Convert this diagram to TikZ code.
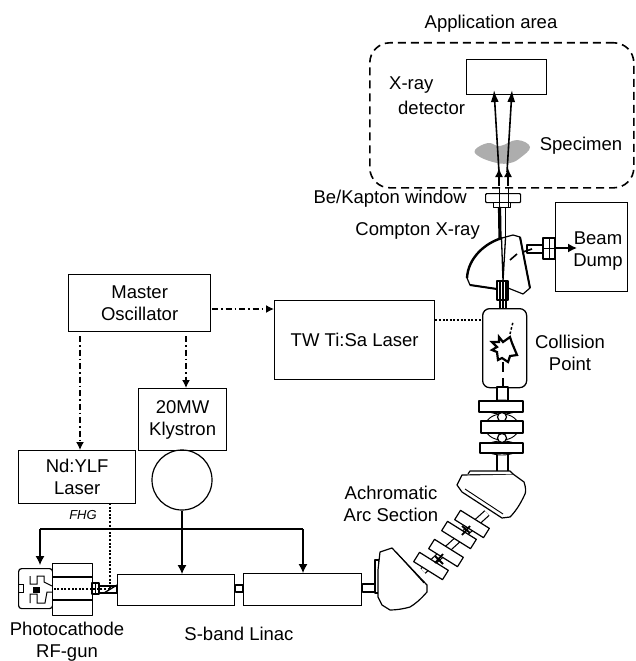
\documentclass[tikz,border=0pt]{standalone}
\usepackage{fontspec}
\setmainfont{Liberation Sans}
\usetikzlibrary{arrows.meta,calc}
\tikzset{
  txt/.style={font=\fontsize{18.5}{22}\selectfont,align=center,inner sep=0pt,text=black},
  boxn/.style={draw=black,line width=1.3pt,inner sep=0pt,txt},
  part/.style={draw=black,line width=1.2pt,fill=white,line join=round},
  thin part/.style={draw=black,line width=.9pt,fill=white},
  dashdot/.style={line width=1.4pt,dash pattern=on 6pt off 3pt on 1.5pt off 3pt,-{Latex[length=8pt,width=8pt]}},
  dots/.style={line width=1.7pt,dash pattern=on 2pt off 1.6pt},
  rf/.style={line width=1.1pt,-{Latex[length=9pt,width=9pt]}},
  xray/.style={line width=1.6pt,-{Latex[length=12pt,width=8pt]}}
}
\begin{document}
\begin{tikzpicture}[x=1pt,y=-1pt]
\useasboundingbox (0,0) rectangle (635,661);
% Application area
\node[draw=black,line width=1.6pt,dash pattern=on 8pt off 5pt,rounded corners=20pt,minimum width=264pt,minimum height=145pt,anchor=north west] (app) at (369,42) {};
\node[boxn,minimum width=80pt,minimum height=35pt,anchor=north west] (det) at (466,59) {};
\fill[black!32] plot[smooth cycle,tension=.7] coordinates {(475,150) (488,143) (500,146) (517,140) (530,147) (520,158) (510,163) (497,163) (480,157)};
\node[txt,anchor=south] (apptxt) at (491,33) {Application area};
\node[txt,anchor=west] (xr) at (389,85) {X-ray};
\node[txt,anchor=west] (dt) at (398,108) {detector};
\node[txt] (spec) at (581,146) {Specimen};
\node[txt,anchor=east] (bk) at (467,199) {Be/Kapton window};
\node[txt,anchor=east] (cx) at (480,231) {Compton X-ray};
% Beam dump
\node[boxn,minimum width=72pt,minimum height=89pt,anchor=north west] (dump) at (555,202) {};
\node[txt] (dumptxt) at (598,251) {Beam\\Dump};
% bend at top
\draw[part] (502,238) .. controls (485,243) and (468,258) .. (467,278) -- (470,285) -- (497,289) -- (508,288) -- (523,294) -- (530,288) -- (520,237) -- (513,235) -- cycle;
\draw[line width=2.4pt] (502,238) .. controls (485,243) and (468,258) .. (467,278);
\draw[line width=2pt] (470,285) -- (497,289);
\draw[line width=2pt] (520,237) -- (530,288);
\draw[part] (527,245) rectangle (543,253);
\draw[line width=1.6pt] (510,260) -- (517,254) (523,252) -- (532,249);
\draw[part] (543,238) rectangle (555,259);
\draw[line width=1pt] (543,248) -- (555,248) (549,238) -- (549,259);
\draw[rf,line width=1.5pt] (dump.west |- 0,248) -- (577,248);
% window
\node[part,rounded corners=1pt,minimum width=35pt,minimum height=9pt,inner sep=0pt,anchor=north west] (win) at (485,193) {};
\node[part,minimum width=17pt,minimum height=5pt,inner sep=0pt,anchor=north west] (win2) at (493,202) {};
% beams
\draw[part] (497,281) rectangle (508,300);
\draw[line width=3.2pt] (499.5,207) -- (500,238);
\draw[line width=1.8pt] (505.5,207) -- (505.5,238);
\draw[line width=1.3pt] (501.5,238) -- (503,281) (505.5,238) -- (503,281);
\draw[line width=1.7pt] (500,281) -- (500,308) (503,281) -- (503,308) (506,281) -- (506,308);
\draw[line width=.9pt] (499,188) -- (499,207) (508,188) -- (508,207);
\coordinate (x1) at (499,186);
\coordinate (x2) at (508,186);
\draw[xray,-{Latex[length=9pt,width=8pt]}] (x1) -- (499,168);
\draw[xray,-{Latex[length=9pt,width=8pt]}] (x2) -- (508,168);
\coordinate (s1) at (499,172);
\coordinate (s2) at (507,172);
\draw[xray] (s1) -- (494,90);
\draw[xray] (s2) -- (512,90);
% Collision box
\node[boxn,rounded corners=7pt,minimum width=44pt,minimum height=79pt,anchor=north west] (col) at (482,308) {};
\draw[line width=2.2pt,line join=miter,fill=white] (499,337) -- (503,342) -- (510,337) -- (512,343) -- (517,355) -- (510,356) -- (508,362) -- (502,358) -- (498,360) -- (497,352) -- (492,350) -- (497,347) -- (492,342) -- (499,342) -- cycle;
\draw[line width=1.5pt,dash pattern=on 2.5pt off 2pt] (510,334) -- (513,322);
\draw[line width=1.3pt] (503,362) -- (503,372) (503,378) -- (503,399);
\node[txt] (coltxt) at (570,353) {Collision\\Point};
% vertical quads
\draw[part] (497,387) rectangle (508,401);
\draw[part] (497,453) rectangle (508,474);
\draw[thin part] (502,427) ellipse (17pt and 13pt);
\draw[thin part] (502,407) ellipse (18pt and 7pt);
\draw[thin part] (502,448) ellipse (17pt and 7pt);
\draw[part] (502,417) circle (4.5pt);
\draw[part] (502,438) circle (4.5pt);
\draw[part] (479,401) rectangle (523,412);
\draw[part] (481,421) rectangle (523,433);
\draw[part] (480,443) rectangle (523,453);
% upper magnet of arc
\draw[part] (457,485) -- (462,475) -- (513,474) -- (524,482) .. controls (526,488) and (526,492) .. (525,494) .. controls (520,505) and (515,512) .. (510,517) -- (502,518) -- (462,492) -- cycle;
\draw[part] (468,474) -- (470,471) -- (510,471) -- (513,474);
\draw[line width=.9pt] (465,489) -- (503,514);
% arc quads
\draw[line width=1.2pt,double=white,double distance=5pt] (423,571) -- (487,513);
\foreach \cx/\cy in {472/524,459/535,446/553,431/566}{
  \draw[part,rotate around={-32:(\cx,\cy)}] (\cx-17,\cy-5.5) rectangle (\cx+17,\cy+5.5);
}
\draw[line width=1.8pt] (462,526) -- (470,533) (470,526) -- (462,535);
\draw[line width=1.8pt] (435,556) -- (443,564) (443,554) -- (435,563);
% lower magnet of arc
\draw[part] (375,560) rectangle (379,593);
\draw[part] (380,552) -- (392,548) -- (427,585) -- (427,592) .. controls (420,600) and (415,604) .. (410,607) .. controls (403,609) and (396,610) .. (390,610) -- (382,605) -- (378,597) -- (378,570) -- cycle;
\draw[line width=.9pt] (396,552) -- (424,583);
% linac
\node[boxn,minimum width=117pt,minimum height=31pt,anchor=north west] (lin1) at (117,574) {};
\node[boxn,minimum width=118pt,minimum height=32pt,anchor=north west] (lin2) at (243,573) {};
\draw[part] (lin1.east |- 0,585) rectangle (lin2.west |- 0,592);
\draw[part] (lin2.east |- 0,584) rectangle (375,592);
% gun
\node[part,rounded corners=3pt,minimum width=34pt,minimum height=40pt,inner sep=0pt,anchor=north west] (gunb) at (18,568) {};
\node[part,minimum width=40pt,minimum height=52pt,inner sep=0pt,anchor=north west] (gun) at (52,563) {};
\draw[line width=1.1pt] (52,577) -- (92,577) (52,600) -- (92,600);
\draw[line width=.9pt] (18,584) -- (23,584) -- (23,592) -- (18,592);
\draw[line width=1pt] (30,576) -- (30,584) -- (37,584) -- (37,576) -- (44,576) -- (44,582) -- (52,586);
\draw[line width=1pt] (30,603) -- (30,594) -- (37,594) -- (37,603) -- (45,603) -- (47,592) -- (52,592);
\fill (33,587) rectangle (40,593);
\draw[part] (92,583) rectangle (99,594);
\draw[line width=.8pt] (95,583) -- (95,594);
\draw[part] (99,586) rectangle (lin1.west |- 0,593);
\draw[line width=1.3pt] (104,593) -- (117,585);
% boxes
\node[boxn,minimum width=142pt,minimum height=57pt,anchor=north west] (mo) at (68,274) {Master\\Oscillator};
\node[boxn,minimum width=160pt,minimum height=79pt,anchor=north west] (tw) at (274,300) {TW Ti:Sa Laser};
\node[boxn,minimum width=88pt,minimum height=62pt,anchor=north west] (kly) at (138,388) {20MW\\Klystron};
\node[boxn,minimum width=117pt,minimum height=53pt,anchor=north west] (nd) at (18,450) {Nd:YLF\\Laser};
\node[draw=black,line width=1.2pt,circle,minimum size=60pt,inner sep=0pt] (circ) at (182,480) {};
% connectors
\coordinate (a) at (212,309);
\draw[dashdot] (a) -- (tw.west |- a);
\coordinate (c) at (80,336);
\draw[dashdot] (c) -- (c |- nd.north);
\coordinate (d) at (186,336);
\draw[dashdot] (d) -- (d |- kly.north);
\draw[dots] (tw.east |- 0,320) -- (col.west |- 0,320);
\coordinate (bus) at (182,529);
\draw[line width=1.1pt] (circ.south) -- (bus);
\draw[rf] (bus) -- (bus |- lin1.north);
\coordinate (busl) at (40,529);
\coordinate (busr) at (303,529);
\draw[line width=1.9pt] (busl) -- (busr);
\draw[rf] (busl) -- (40,565);
\draw[rf] (busr) -- (busr |- lin2.north);
\draw[dots] (110,503) -- (110,589) -- (53,589);
% labels
\node[font=\fontsize{13}{15}\selectfont\itshape,inner sep=0pt,text=black] (fhg) at (83,515) {FHG};
\node[txt] (pc) at (67,642) {Photocathode\\RF-gun};
\node[txt] (sb) at (239,634) {S-band Linac};
\node[txt] (aa) at (391,504) {Achromatic\\Arc Section};
\end{tikzpicture}
\end{document}
